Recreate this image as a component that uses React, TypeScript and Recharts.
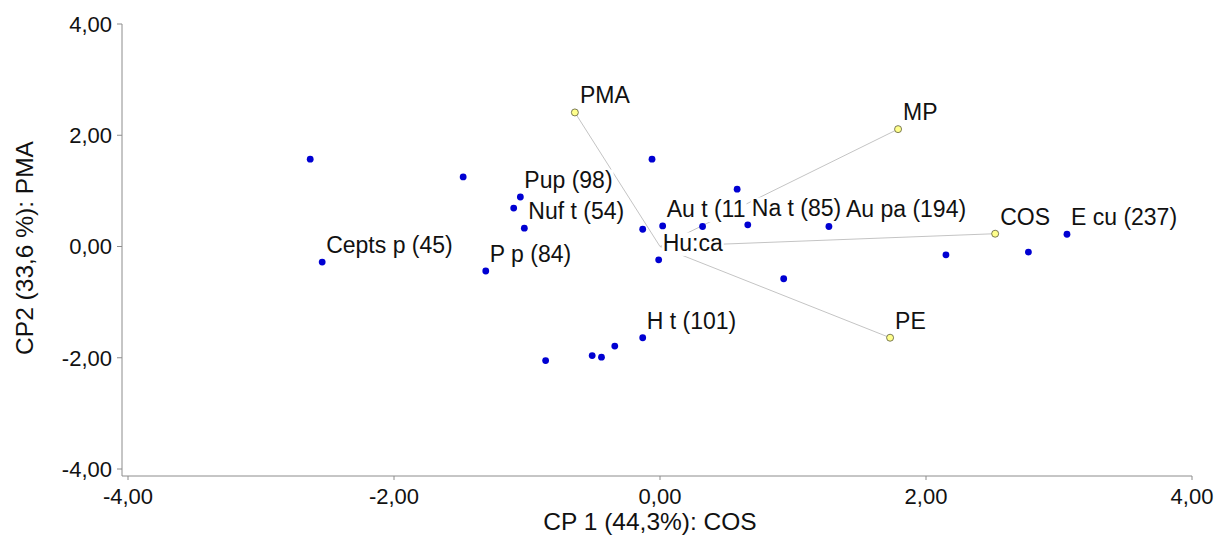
import { ScatterChart, Scatter, XAxis, YAxis, ReferenceLine } from "recharts";

// species scores on the first two components
const speciesLabel = [
  "", "", "Pup (98)", "", "Nuf t (54)", "Cepts p (45)", "P p (84)", "",
  "Au t (11", "", "", "", "Na t (85)", "Au pa (194)", "", "",
  "E cu (237)", "", "H t (101)", "", "", "", "", "Hu:ca",
];
const speciesCp1 = [
  -2.63, -1.48, -1.05, -1.1, -1.02, -2.54, -1.31, -0.13,
  0.02, -0.06, 0.58, 0.32, 0.66, 1.27, 2.15, 2.77,
  3.06, 0.93, -0.13, -0.34, -0.44, -0.51, -0.86, -0.01,
];
const speciesCp2 = [
  1.57, 1.25, 0.89, 0.69, 0.33, -0.28, -0.44, 0.31,
  0.37, 1.57, 1.03, 0.36, 0.39, 0.36, -0.15, -0.1,
  0.22, -0.58, -1.64, -1.79, -1.99, -1.96, -2.05, -0.24,
];

// environmental variables (vectors from the origin)
const varNames = ["PMA", "MP", "COS", "PE"];
const varCp1 = [-0.64, 1.79, 2.52, 1.73];
const varCp2 = [2.41, 2.11, 0.23, -1.64];

const axisTicks = [-4, -2, 0, 2, 4];

const scores = speciesCp1.map((x, i) => ({ x, y: speciesCp2[i], label: speciesLabel[i] }));
const loadings = varCp1.map((x, i) => ({ x, y: varCp2[i], label: varNames[i] }));

const FONT = '"Liberation Sans", Arial, sans-serif';
const LABEL_SIZE = 23;
const BLUE = "#0000d2";

// Au pa label sits further right in the original (pushed past Na t)
const labelNudge: Record<string, number> = { "Au pa (194)": 13 };

let ctx: CanvasRenderingContext2D | null = null;
function textWidth(s: string, size: number) {
  if (!ctx && typeof document !== "undefined") {
    ctx = document.createElement("canvas").getContext("2d");
  }
  if (!ctx) return s.length * size * 0.55;
  ctx.font = `${size}px "Liberation Sans", Arial, sans-serif`;
  return ctx.measureText(s).width;
}

function LabelBox({ x, y, text }: { x: number; y: number; text: string }) {
  const w = textWidth(text, LABEL_SIZE);
  return (
    <g>
      <rect x={x - 1} y={y - LABEL_SIZE * 0.8} width={w + 2} height={LABEL_SIZE * 1.02} fill="#fff" />
      <text x={x} y={y} fontFamily={FONT} fontSize={LABEL_SIZE} fill="#111">
        {text}
      </text>
    </g>
  );
}

function ScoreDot(props: any) {
  const { cx, cy, payload } = props;
  const lbl: string = payload.label;
  return (
    <g>
      <circle cx={cx} cy={cy} r={3.4} fill={BLUE} />
      {lbl && <LabelBox x={cx + 4 + (labelNudge[lbl] ?? 0)} y={cy - 9} text={lbl} />}
    </g>
  );
}

function LoadingDot(props: any) {
  const { cx, cy, payload } = props;
  return (
    <g>
      <circle cx={cx} cy={cy} r={3.5} fill="#ffff8c" stroke="#5a5a3a" strokeWidth={0.8} />
      <LabelBox x={cx + 5} y={cy - 9} text={payload.label} />
    </g>
  );
}

const fmt = (v: number) => v.toFixed(2).replace(".", ",");

export default function App() {
  return (
    <div style={{ position: "absolute", left: 0, top: 0, background: "#fff" }}>
      <ScatterChart width={1214} height={535} margin={{ top: 24, right: 22, left: 0, bottom: 0 }}>
        <XAxis
          type="number"
          dataKey="x"
          domain={[-4, 4]}
          ticks={axisTicks}
          tickFormatter={fmt}
          allowDataOverflow
          height={59}
          padding={{ left: 6, right: 0 }}
          stroke="#8c8c8c"
          tickSize={4}
          tickMargin={8}
          tick={{ fill: "#111", fontSize: 22, fontFamily: FONT }}
          label={{
            content: () => (
              <text x={650} y={530} textAnchor="middle" fontFamily={FONT} fontSize={24.5} fill="#111">
                CP 1 (44,3%): COS
              </text>
            ),
          }}
        />
        <YAxis
          type="number"
          dataKey="y"
          domain={[-4, 4]}
          ticks={axisTicks}
          tickFormatter={fmt}
          allowDataOverflow
          width={122}
          padding={{ top: 0, bottom: 7 }}
          stroke="#8c8c8c"
          tickSize={5}
          tickMargin={5}
          tick={{ fill: "#111", fontSize: 22, fontFamily: FONT }}
          label={{
            content: () => (
              <text
                x={33}
                y={248}
                transform="rotate(-90 33 248)"
                textAnchor="middle"
                fontFamily={FONT}
                fontSize={24.5}
                fill="#111"
              >
                CP2 (33,6 %): PMA
              </text>
            ),
          }}
        />
        {loadings.map((l) => (
          <ReferenceLine
            key={l.label}
            segment={[{ x: 0, y: 0 }, { x: l.x, y: l.y }]}
            stroke="#c4c4c4"
            strokeWidth={1}
          />
        ))}
        <Scatter data={loadings} shape={LoadingDot} isAnimationActive={false} />
        <Scatter data={scores} shape={ScoreDot} isAnimationActive={false} />
      </ScatterChart>
    </div>
  );
}
